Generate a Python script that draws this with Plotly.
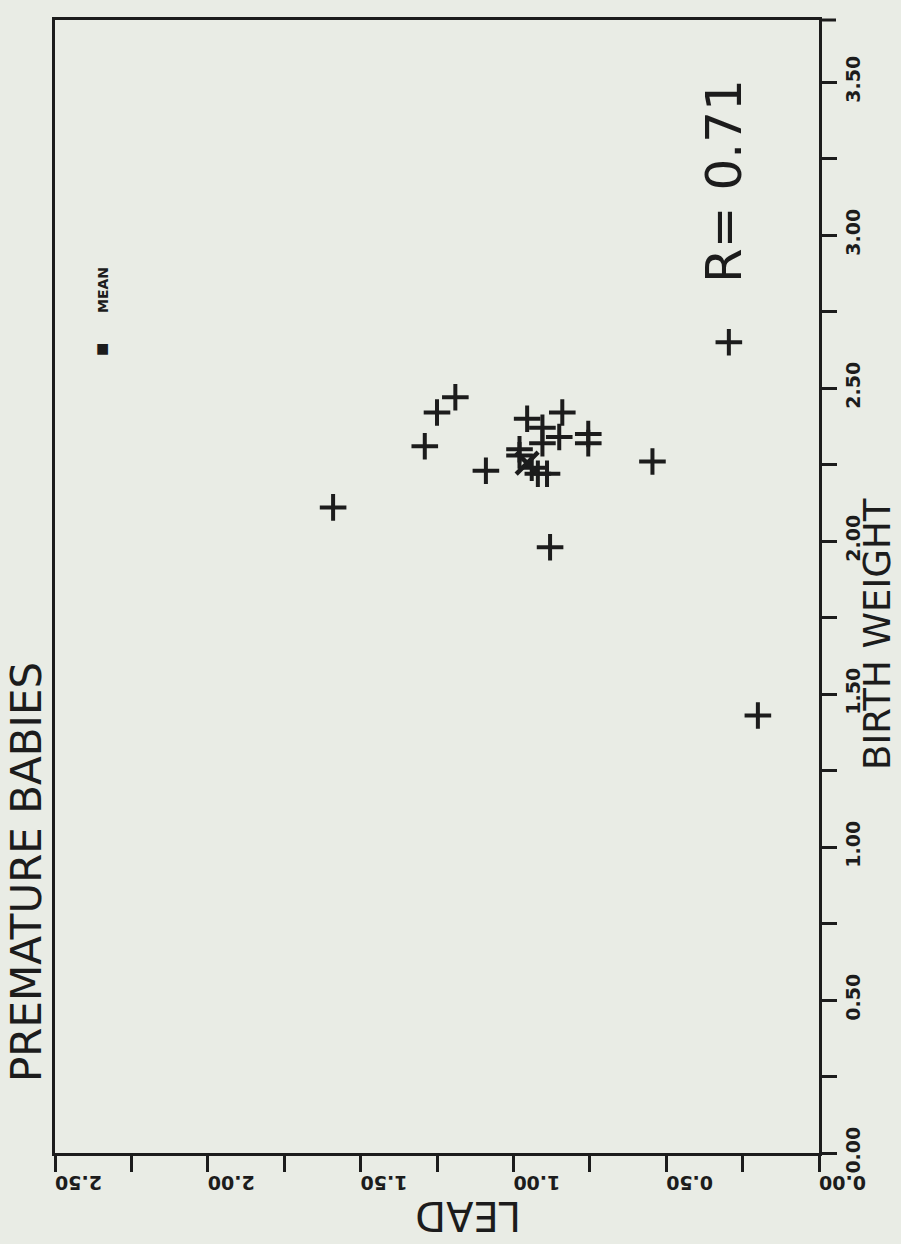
import plotly.graph_objects as go

# ---- data ----
lead = [1.59, 1.29, 1.25, 1.19, 1.09, 0.955, 0.84, 0.905, 0.85, 0.755, 0.755,
        0.905, 0.98, 0.98, 0.94, 0.92, 0.89, 0.88, 0.545, 0.295, 0.20]
birth_weight = [2.11, 2.31, 2.42, 2.47, 2.23, 2.40, 2.42, 2.37, 2.34, 2.35, 2.32,
                2.32, 2.30, 2.28, 2.24, 2.22, 2.22, 1.98, 2.26, 2.65, 1.43]
mean_lead = [0.955]
mean_bw = [2.255]

bw_tickvals = [0, 0.25, 0.5, 0.75, 1.0, 1.25, 1.5, 1.75, 2.0, 2.25, 2.5, 2.75, 3.0, 3.25, 3.5]
bw_ticktext = ["0.00", "", "0.50", "", "1.00", "", "1.50", "", "2.00", "", "2.50", "", "3.00", "", "3.50"]
lead_tickvals = [0, 0.25, 0.5, 0.75, 1.0, 1.25, 1.5, 1.75, 2.0, 2.25, 2.5]
lead_ticktext = ["0.00", "", "0.50", "", "1.00", "", "1.50", "", "2.00", "", "2.50"]

title_text = "PREMATURE BABIES"
r_text = "R= 0.71"
x_title = "LEAD"
y_title = "BIRTH WEIGHT"
legend_text = "MEAN"

INK = "#1c1c1c"
BG = "#e9ece5"
FONT = "DejaVu Sans"

# layout geometry (pixels)
L, R, T, B = 55, 82, 20, 91
W, H = 901, 1244
PW, PH = W - L - R, H - T - B


def px(x):
    return (x - L) / PW


def py(y):
    return (H - B - y) / PH


fig = go.Figure()
fig.add_trace(go.Scatter(
    x=lead, y=birth_weight, mode="markers",
    marker=dict(symbol="cross-thin", size=19, color=INK, line=dict(width=4, color=INK)),
    showlegend=False, hoverinfo="x+y"))
fig.add_trace(go.Scatter(
    x=mean_lead, y=mean_bw, mode="markers",
    marker=dict(symbol="x-thin", size=22, color=INK, line=dict(width=4.5, color=INK)),
    showlegend=False, hoverinfo="x+y"))

fig.update_xaxes(
    range=[2.5, 0], tickvals=lead_tickvals, ticktext=lead_ticktext,
    tickangle=180, ticks="outside", ticklen=16, tickwidth=3, tickcolor=INK,
    showline=True, linewidth=3, linecolor=INK, mirror=True,
    showgrid=False, zeroline=False,
    tickfont=dict(family=FONT, size=19, color=INK, weight="bold"))
fig.update_yaxes(
    range=[0, 3.703], side="right", tickvals=bw_tickvals, ticktext=bw_ticktext,
    tickangle=-90, ticks="outside", ticklen=15, tickwidth=3, tickcolor=INK,
    showline=True, linewidth=3, linecolor=INK, mirror=True,
    showgrid=False, zeroline=False,
    tickfont=dict(family=FONT, size=19, color=INK, weight="bold"))

ann = []
ann.append(dict(text=title_text, x=px(27), y=py(872), textangle=-90,
                font=dict(family=FONT, size=42, color=INK)))
ann.append(dict(text=r_text, x=px(724), y=py(181), textangle=-90,
                font=dict(family=FONT, size=50, color=INK)))
ann.append(dict(text=y_title, x=px(877), y=py(634), textangle=-90,
                font=dict(family=FONT, size=37, color=INK)))
ann.append(dict(text=x_title, x=px(468), y=py(1216), textangle=180,
                font=dict(family=FONT, size=40, color=INK)))
ann.append(dict(text=legend_text, x=px(103), y=py(290), textangle=-90,
                font=dict(family=FONT, size=14, color=INK, weight="bold")))
ann.append(dict(text="■", x=px(102), y=py(348),
                font=dict(family=FONT, size=14, color=INK)))
for a in ann:
    a.update(xref="paper", yref="paper", showarrow=False, xanchor="center", yanchor="middle")
fig.update_layout(annotations=ann)

# small extension of the top frame line past the right axis
fig.add_shape(type="line", xref="paper", yref="paper", x0=1, x1=px(836), y0=1, y1=1,
              line=dict(color=INK, width=3))

fig.update_layout(
    width=W, height=H, margin=dict(l=L, r=R, t=T, b=B),
    paper_bgcolor=BG, plot_bgcolor=BG, showlegend=False)

fig.write_html("out.html")
